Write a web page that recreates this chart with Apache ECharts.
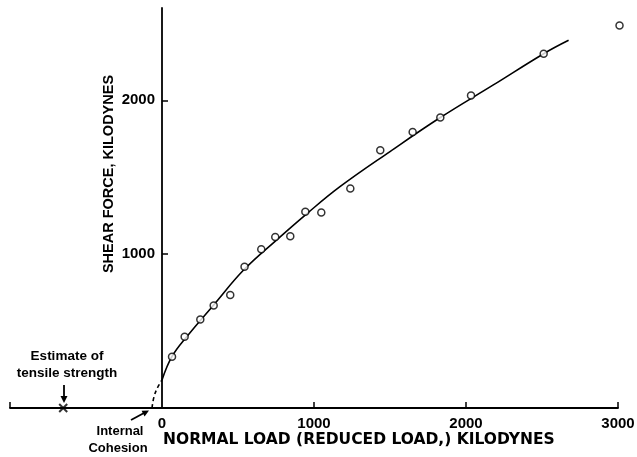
<!DOCTYPE html>
<html>
<head>
<meta charset="utf-8">
<script src="https://cdn.jsdelivr.net/npm/echarts@6/dist/echarts.min.js"></script>
<style>
  html, body { margin: 0; padding: 0; background: #fff; }
  #chart { width: 637px; height: 457px; }
</style>
</head>
<body>
<div id="chart"></div>
<script>
// measured points (normal load, shear force) in kilodynes
var loadX = [66, 149, 252, 340, 449, 543, 653, 745, 844, 943, 1048, 1239, 1436, 1649, 1831, 2033, 2511, 3010];
var shearY = [333, 463, 576, 667, 734, 918, 1032, 1112, 1117, 1275, 1271, 1427, 1675, 1794, 1888, 2032, 2303, 2487];

// fitted curve
var fitX = [0, 66, 164, 340, 540, 757, 954, 1173, 1500, 1831, 2180, 2511, 2675];
var fitY = [182, 335, 465, 670, 900, 1095, 1264, 1440, 1667, 1888, 2100, 2303, 2390];

// dashed extrapolation down to the axis
var dashX = [-66, -52, -28, 0];
var dashY = [0, 75, 135, 182];

// estimate of tensile strength
var tensileX = [-650];
var tensileY = [0];

var xTicks = [-1000, 1000, 2000, 3000];
var xLabels = [0, 1000, 2000, 3000];
var yTicks = [1000, 2000];

function pairs(xs, ys) {
  return xs.map(function (v, i) { return [v, ys[i]]; });
}

var numFont = '"Liberation Sans", Arial, sans-serif';
var chart = echarts.init(document.getElementById('chart'), null, { renderer: 'canvas' });

var option = {
  backgroundColor: '#fff',
  animation: false,
  grid: {
    left: 10,
    right: 19,
    top: 8,
    bottom: 49,
    outerBoundsMode: 'none'
  },
  xAxis: {
    type: 'value',
    min: -1000,
    max: 3000,
    splitLine: { show: false },
    axisLine: { lineStyle: { color: '#000', width: 1.8 } },
    axisTick: {
      inside: true,
      length: 6,
      customValues: xTicks,
      lineStyle: { color: '#000', width: 1.5 }
    },
    axisLabel: {
      customValues: xLabels,
      formatter: function (v) { return String(v); },
      margin: 8,
      color: '#000',
      fontFamily: numFont,
      fontWeight: 'bold',
      fontSize: 15
    }
  },
  yAxis: {
    type: 'value',
    min: 0,
    max: 2600,
    splitLine: { show: false },
    axisLine: { onZero: true, lineStyle: { color: '#000', width: 1.8 } },
    axisTick: {
      inside: true,
      length: 6,
      customValues: yTicks,
      lineStyle: { color: '#000', width: 1.5 }
    },
    axisLabel: {
      customValues: yTicks,
      formatter: function (v) { return String(v); },
      margin: -145,
      color: '#000',
      fontFamily: numFont,
      fontWeight: 'bold',
      fontSize: 15
    }
  },
  series: [
    {
      name: 'Fit',
      type: 'line',
      data: pairs(fitX, fitY),
      smooth: 0.4,
      showSymbol: false,
      lineStyle: { color: '#000', width: 1.6 },
      z: 2
    },
    {
      name: 'Extrapolation',
      type: 'line',
      data: pairs(dashX, dashY),
      smooth: 0.4,
      showSymbol: false,
      lineStyle: { color: '#000', width: 1.6, type: [4, 3] },
      z: 2
    },
    {
      name: 'Measured',
      type: 'scatter',
      data: pairs(loadX, shearY),
      symbol: 'circle',
      symbolSize: 7,
      clip: false,
      itemStyle: { color: '#fff', borderColor: '#000', borderWidth: 1.5 },
      z: 3
    },
    {
      name: 'Tensile strength',
      type: 'scatter',
      data: pairs(tensileX, tensileY),
      symbol: 'path://M0,0L10,10M10,0L0,10',
      symbolSize: 8,
      clip: false,
      itemStyle: { color: 'none', borderColor: '#000', borderWidth: 2 },
      z: 3
    }
  ],
  graphic: [
    {
      type: 'text',
      left: 163, top: 432,
      style: {
        text: 'NORMAL LOAD (REDUCED LOAD,) KILODYNES',
        fill: '#000',
        font: 'bold 15.5px "DejaVu Sans", sans-serif'
      }
    },
    {
      type: 'text',
      x: 109, y: 174,
      rotation: Math.PI / 2,
      style: {
        text: 'SHEAR FORCE, KILODYNES',
        fill: '#000',
        align: 'center',
        verticalAlign: 'middle',
        font: 'bold 14.5px "Liberation Sans", Arial, sans-serif'
      }
    },
    {
      type: 'text',
      x: 67, y: 356,
      style: {
        text: 'Estimate of', fill: '#000', align: 'center', verticalAlign: 'middle',
        font: 'bold 13.5px "Liberation Sans", Arial, sans-serif'
      }
    },
    {
      type: 'text',
      x: 67, y: 373,
      style: {
        text: 'tensile strength', fill: '#000', align: 'center', verticalAlign: 'middle',
        font: 'bold 13.5px "Liberation Sans", Arial, sans-serif'
      }
    },
    {
      type: 'text',
      x: 120, y: 431,
      style: {
        text: 'Internal', fill: '#000', align: 'center', verticalAlign: 'middle',
        font: 'bold 13px "Liberation Sans", Arial, sans-serif'
      }
    },
    {
      type: 'text',
      x: 118, y: 448,
      style: {
        text: 'Cohesion', fill: '#000', align: 'center', verticalAlign: 'middle',
        font: 'bold 13px "Liberation Sans", Arial, sans-serif'
      }
    },
    // arrow to the tensile estimate
    {
      type: 'line',
      shape: { x1: 64, y1: 385, x2: 64, y2: 397 },
      style: { stroke: '#000', lineWidth: 1.8 }
    },
    {
      type: 'polygon',
      shape: { points: [[60.5, 396], [67.5, 396], [64, 403]] },
      style: { fill: '#000' }
    },
    // arrow to internal cohesion
    {
      type: 'line',
      shape: { x1: 131, y1: 420, x2: 144, y2: 413 },
      style: { stroke: '#000', lineWidth: 1.8 }
    },
    {
      type: 'polygon',
      shape: { points: [[149, 410.5], [144.6, 416.4], [141.6, 410.8]] },
      style: { fill: '#000' }
    }
  ]
};

chart.setOption(option);
</script>
</body>
</html>
